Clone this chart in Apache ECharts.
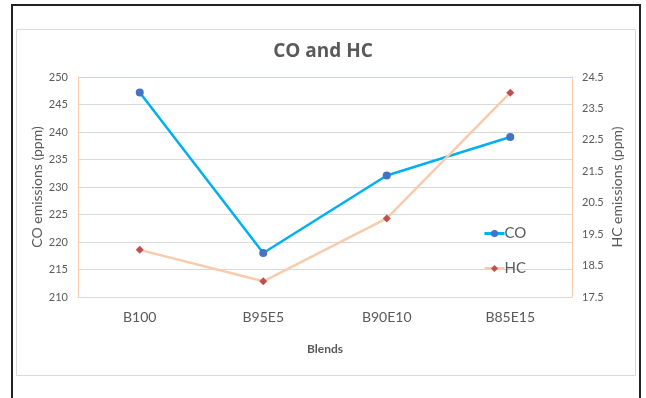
<!DOCTYPE html>
<html><head><meta charset="utf-8">
<script src="https://cdn.jsdelivr.net/npm/echarts@6/dist/echarts.min.js"></script>
<style>html,body{margin:0;padding:0;background:#fff}#c{width:646px;height:398px}</style>
</head><body><div id="c"></div>
<script>
const categories = ['B100', 'B95E5', 'B90E10', 'B85E15'];
const coValues = [247.2, 218, 232.1, 239.1];
const hcValues = [19, 18, 20, 24];
const coTicks = [210, 250, 5];
const hcTicks = [17.5, 24.5, 1];

const FONT = 'Lato, "Liberation Sans", sans-serif';
const PEACH = '#F8CBAD';
const GRID = '#D9D9D9';
const chart = echarts.init(document.getElementById('c'), null, {renderer: 'canvas'});
chart.setOption({
  animation: false,
  backgroundColor: '#fff',
  graphic: [
    {type: 'rect', shape: {x: 16.5, y: 29.5, width: 619, height: 346}, style: {fill: 'none', stroke: GRID, lineWidth: 1}, z: -1},
    {type: 'polyline', shape: {points: [[12, 420], [12, 5], [640, 5], [640, 420]]}, style: {fill: 'none', stroke: '#222', lineWidth: 2}, z: -1}
  ],
  title: {
    text: 'CO and HC', left: 'center', top: 37,
    textStyle: {fontFamily: '"Open Sans", sans-serif', fontSize: 19, fontWeight: 'bold', color: '#595959'}
  },
  legend: {
    orient: 'vertical', left: 483, top: 226, padding: 0, itemGap: 20, itemWidth: 20, itemHeight: 9,
    lineStyle: {width: 3},
    textStyle: {fontFamily: FONT, fontSize: 15, color: '#595959', padding: [0, 0, 0, -5], lineHeight: 15},
    data: ['CO', 'HC']
  },
  grid: {left: 78, right: 74, top: 77, bottom: 101},
  xAxis: {
    type: 'category', data: categories, boundaryGap: true, z: 5,
    name: 'Blends', nameLocation: 'middle', nameGap: 46,
    nameTextStyle: {fontFamily: FONT, fontSize: 12, fontWeight: 'bold', color: '#595959'},
    axisLine: {lineStyle: {color: GRID}},
    axisTick: {show: false},
    axisLabel: {fontFamily: FONT, fontSize: 14, color: '#595959', margin: 13}
  },
  yAxis: [
    {
      type: 'value', min: coTicks[0], max: coTicks[1], interval: coTicks[2],
      name: 'CO emissions (ppm)', nameLocation: 'middle', nameGap: 34, nameMoveOverlap: false,
      nameTextStyle: {fontFamily: FONT, fontSize: 14, color: '#595959'},
      axisLine: {show: true, lineStyle: {color: PEACH}}, axisTick: {show: false},
      axisLabel: {fontFamily: FONT, fontSize: 11, color: '#595959', margin: 10},
      splitLine: {lineStyle: {color: [GRID, GRID, GRID, GRID, GRID, GRID, GRID, GRID, PEACH]}}
    },
    {
      type: 'value', min: hcTicks[0], max: hcTicks[1], interval: hcTicks[2],
      name: 'HC emissions (ppm)', nameLocation: 'middle', nameGap: 38, nameRotate: 90, nameMoveOverlap: false,
      nameTextStyle: {fontFamily: FONT, fontSize: 14, color: '#595959'},
      axisLine: {show: true, lineStyle: {color: PEACH}}, axisTick: {show: false},
      axisLabel: {fontFamily: FONT, fontSize: 11, color: '#595959', margin: 10, formatter: v => v.toFixed(1)},
      splitLine: {show: false}
    }
  ],
  series: [
    {
      name: 'CO', type: 'line', yAxisIndex: 0, data: coValues,
      symbol: 'circle', symbolSize: 8,
      lineStyle: {color: '#00B0F0', width: 2.5},
      itemStyle: {color: '#4472C4'}
    },
    {
      name: 'HC', type: 'line', yAxisIndex: 1, data: hcValues,
      symbol: 'diamond', symbolSize: 8,
      lineStyle: {color: PEACH, width: 2.5},
      itemStyle: {color: '#C0504D'}
    }
  ]
});
</script></body></html>
